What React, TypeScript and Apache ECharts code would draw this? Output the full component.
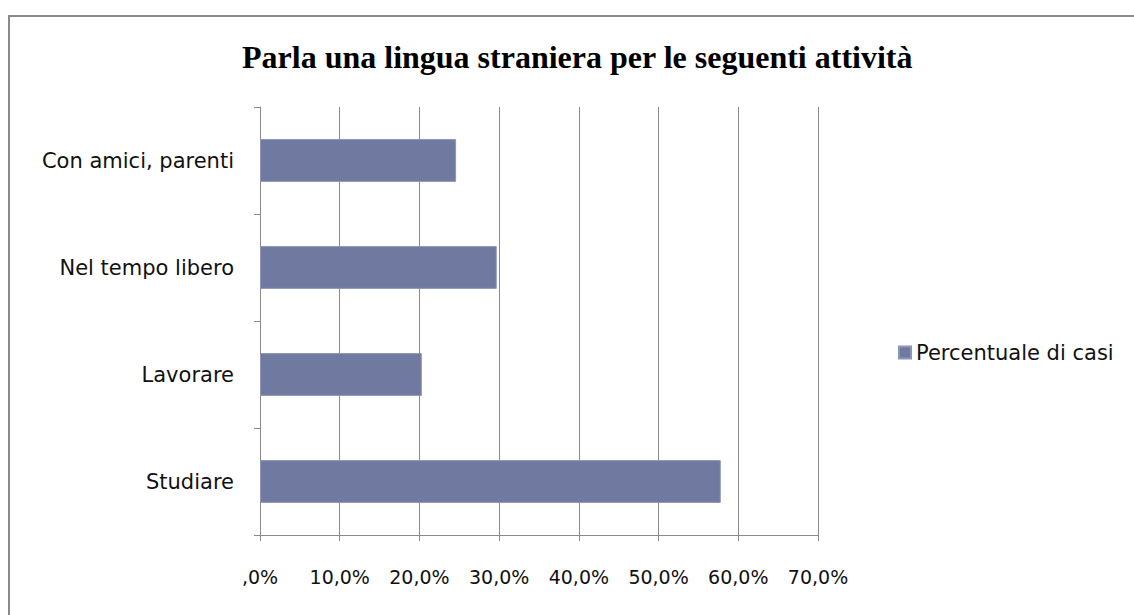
import React, { useEffect, useRef } from "react";
import * as echarts from "echarts";

const categories = ["Studiare", "Lavorare", "Nel tempo libero", "Con amici, parenti"];
const values = [57.8, 20.3, 29.7, 24.6];
const seriesName = "Percentuale di casi";
const titleText = "Parla una lingua straniera per le seguenti attività";
const xTicks = { min: 0, max: 70, interval: 10 };

export default function App() {
  const ref = useRef<HTMLDivElement>(null);
  useEffect(() => {
    if (!ref.current) return;
    const chart = echarts.init(ref.current, null, { renderer: "svg" });
    chart.setOption({
      animation: false,
      backgroundColor: "#ffffff",
      title: {
        text: titleText,
        left: 237,
        top: 36,
        textStyle: {
          fontFamily: "Liberation Serif",
          fontWeight: "bold",
          fontSize: 32,
          color: "#000",
        },
      },
      graphic: [
        {
          type: "rect",
          shape: { x: 9, y: 16, width: 1140, height: 620 },
          style: { fill: "none", stroke: "#8a8a8a", lineWidth: 2 },
          silent: true,
        },
      ],
      legend: {
        data: [seriesName],
        left: 893,
        top: 337,
        icon: "rect",
        itemWidth: 12,
        itemHeight: 12,
        itemGap: 10,
        textStyle: { fontFamily: "DejaVu Sans", fontSize: 21, color: "#111" },
      },
      grid: { left: 260, right: 316, top: 107, bottom: 80, containLabel: false },
      xAxis: {
        type: "value",
        min: xTicks.min,
        max: xTicks.max,
        interval: xTicks.interval,
        axisLine: { show: true, lineStyle: { color: "#8a8a8a", width: 1 } },
        axisTick: { show: true, length: 6, lineStyle: { color: "#8a8a8a" } },
        splitLine: { show: true, lineStyle: { color: "#8a8a8a", width: 1 } },
        axisLabel: {
          margin: 32,
          fontFamily: "DejaVu Sans",
          fontSize: 19,
          color: "#111",
          formatter: (v: number) => (v === 0 ? ",0%" : v.toFixed(1).replace(".", ",") + "%"),
        },
      },
      yAxis: {
        type: "category",
        data: categories,
        axisLine: { show: true, lineStyle: { color: "#8a8a8a", width: 1 } },
        axisTick: { show: true, length: 6, alignWithLabel: false, lineStyle: { color: "#8a8a8a" } },
        axisLabel: {
          margin: 26,
          fontFamily: "DejaVu Sans",
          fontSize: 21,
          color: "#111",
        },
      },
      series: [
        {
          name: seriesName,
          type: "bar",
          data: values,
          barCategoryGap: "60%",
          itemStyle: { color: "#707aa0", borderColor: "#8e96b8", borderWidth: 1 },
        },
      ],
    });
    return () => chart.dispose();
  }, []);
  return (
    <div
      ref={ref}
      style={{ position: "fixed", left: 0, top: 0, width: 1134, height: 615 }}
    />
  );
}
